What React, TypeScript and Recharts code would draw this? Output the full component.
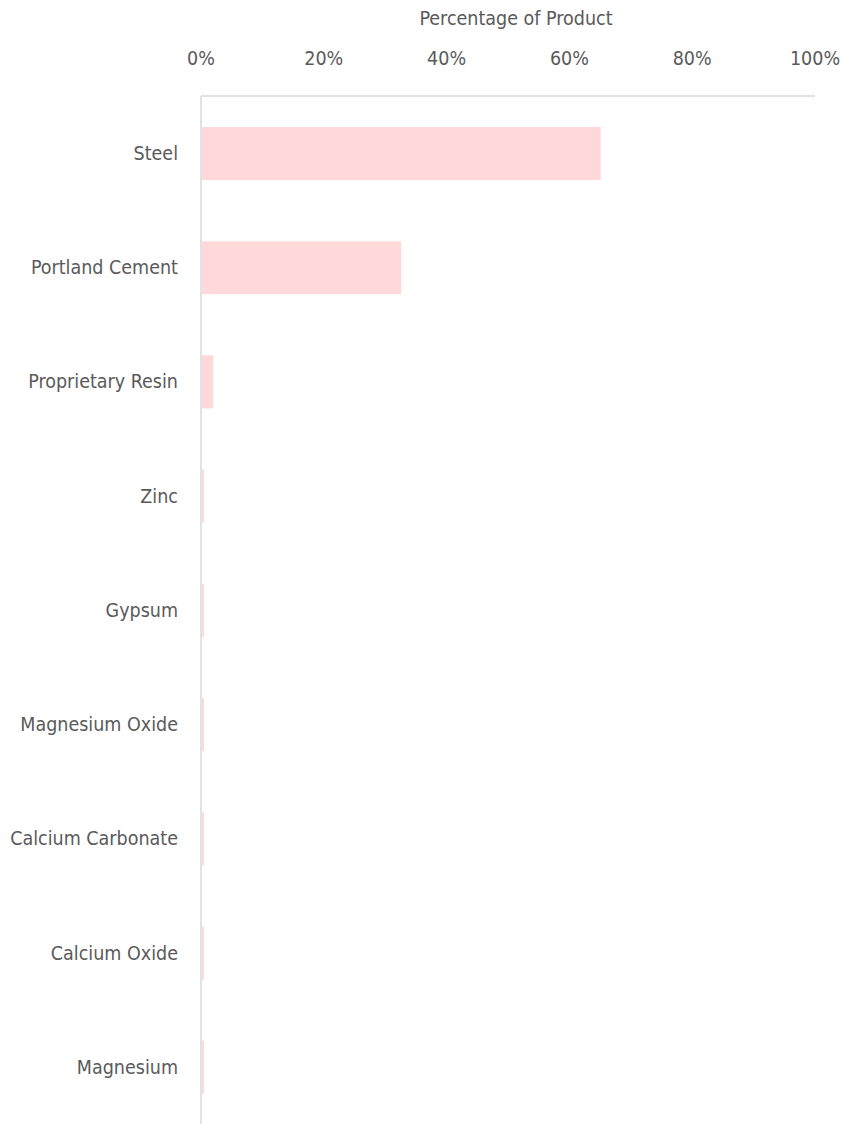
import { BarChart, Bar, XAxis, YAxis } from "recharts";

const materials = [
  "Steel",
  "Portland Cement",
  "Proprietary Resin",
  "Zinc",
  "Gypsum",
  "Magnesium Oxide",
  "Calcium Carbonate",
  "Calcium Oxide",
  "Magnesium",
];

const shares = [65.1, 32.6, 2.0, 0.5, 0.5, 0.5, 0.5, 0.5, 0.5];

const percentTicks = [0, 20, 40, 60, 80, 100];

const data = materials.map((name, i) => ({ name, share: shares[i] }));

const TEXT = "#5a5a5a";
const AXIS = "#e2e2e2";
const FONT = "'DejaVu Sans Condensed', 'DejaVu Sans', sans-serif";
const SIZE = 19.5;

export default function App() {
  return (
    <div style={{ position: "absolute", left: 0, top: 0, fontFamily: FONT }}>
      <BarChart
        width={842}
        height={1124}
        data={data}
        layout="vertical"
        margin={{ top: 0, right: 27, bottom: 0, left: 0 }}
      >
        <XAxis
          type="number"
          orientation="top"
          domain={[0, 100]}
          ticks={percentTicks}
          tickFormatter={(v: number) => `${v}%`}
          height={96}
          tickLine={false}
          tickSize={0}
          tickMargin={31}
          axisLine={{ stroke: AXIS, strokeWidth: 2 }}
          tick={{ fill: TEXT, fontSize: SIZE, fontFamily: FONT }}
          label={{
            value: "Percentage of Product",
            position: "insideTop",
            offset: 11,
            dx: 8,
            fill: TEXT,
            fontSize: SIZE,
            fontFamily: FONT,
          }}
        />
        <YAxis
          type="category"
          dataKey="name"
          width={201}
          tickLine={false}
          tickSize={0}
          tickMargin={23}
          axisLine={{ stroke: AXIS, strokeWidth: 2 }}
          tick={{ fill: TEXT, fontSize: SIZE, fontFamily: FONT }}
          interval={0}
        />
        <Bar dataKey="share" fill="#ffd8d9" barSize={53} isAnimationActive={false} />
      </BarChart>
    </div>
  );
}
